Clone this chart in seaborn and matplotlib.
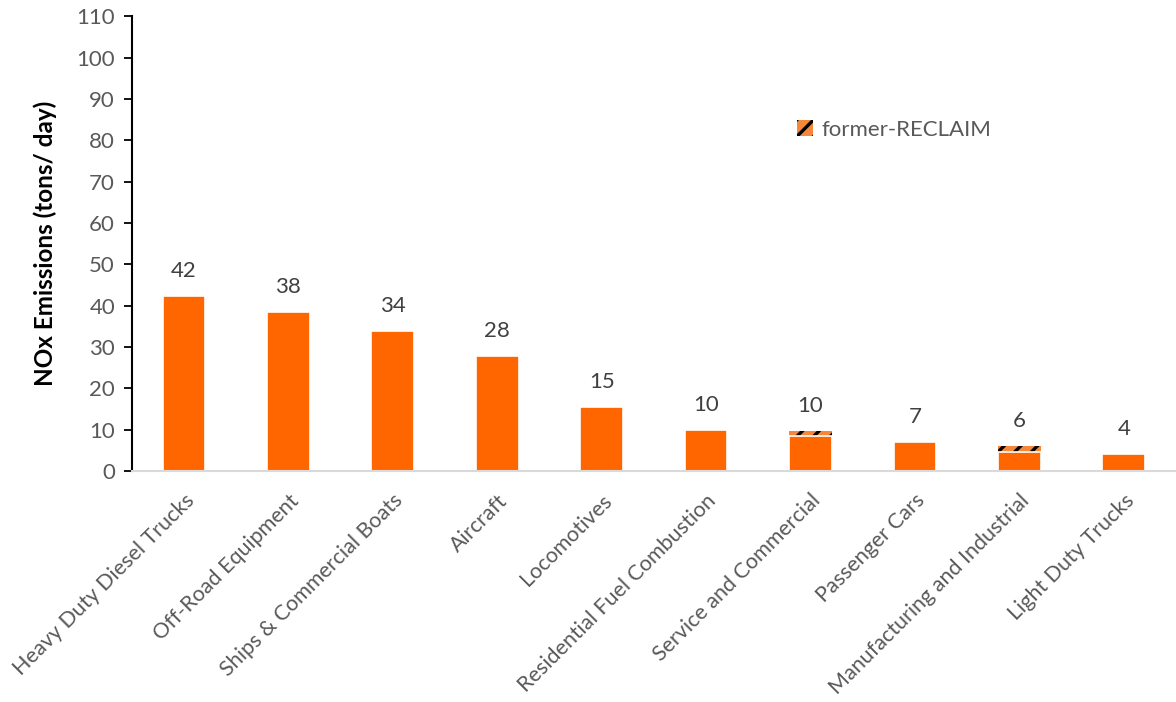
import matplotlib
matplotlib.use("Agg")
import matplotlib.pyplot as plt
import seaborn as sns
import pandas as pd
from matplotlib.patches import Patch

categories = [
    "Heavy Duty Diesel Trucks", "Off-Road Equipment", "Ships & Commercial Boats",
    "Aircraft", "Locomotives", "Residential Fuel Combustion",
    "Service and Commercial", "Passenger Cars", "Manufacturing and Industrial",
    "Light Duty Trucks",
]
base_values = [42.4, 38.4, 33.8, 27.8, 15.4, 9.9, 8.4, 7.0, 4.5, 4.1]
reclaim_values = [0, 0, 0, 0, 0, 0, 1.3, 0, 1.6, 0]
yticks = list(range(0, 111, 10))

totals = [b + r for b, r in zip(base_values, reclaim_values)]
df = pd.DataFrame({"category": categories, "base": base_values, "total": totals})

sns.set_style("white")
plt.rcParams["font.family"] = ["Lato", "DejaVu Sans"]
plt.rcParams["hatch.linewidth"] = 2.4

fig = plt.figure(figsize=(11.76, 7.02), dpi=100)
ax = fig.add_axes([0.112, 0.329, 0.888, 0.648])

orange = "#FF6600"
light_orange = "#F4873A"

# Totals drawn hatched; the solid base bars are laid over them
sns.barplot(data=df, x="category", y="total", color=light_orange, saturation=1,
            width=0.41, hatch="//", edgecolor="black", linewidth=0, ax=ax)
sns.barplot(data=df, x="category", y="base", color=orange, saturation=1,
            width=0.41, edgecolor="white", linewidth=1.2, ax=ax)

for i, t in enumerate(totals):
    ax.text(i, t + 3.6, f"{t:.0f}", ha="center", va="bottom",
            fontsize=16, color="#404040")

ax.set_xlim(-0.5, len(categories) - 0.5)
ax.set_ylim(0, 110)
ax.set_yticks(yticks)
ax.set_yticklabels([str(v) for v in yticks], fontsize=16, color="#595959")
ax.tick_params(axis="y", direction="out", length=6, width=1.3, color="black",
               left=True, pad=6)
ax.tick_params(axis="x", length=0, pad=14)
ax.set_xticks(range(len(categories)))
ax.set_xticklabels(categories, rotation=45, ha="right", rotation_mode="anchor",
                   fontsize=15.5, color="#595959")
ax.set_xlabel("")
ax.set_ylabel("NOx Emissions (tons/ day)", fontsize=17.5, fontweight="bold",
              color="black", labelpad=14)

for side in ["top", "right"]:
    ax.spines[side].set_visible(False)
ax.spines["left"].set_color("black")
ax.spines["left"].set_linewidth(1.5)
ax.spines["bottom"].set_color("#D9D9D9")
ax.spines["bottom"].set_linewidth(1.5)

handle = Patch(facecolor=light_orange, hatch="//", edgecolor="black", linewidth=0)
ax.legend([handle], ["former-RECLAIM"], loc="upper left",
          bbox_to_anchor=(0.618, 0.816), frameon=False, fontsize=16,
          handlelength=0.7, handleheight=0.7, handletextpad=0.4,
          labelcolor="#595959")

fig.savefig("out.png", dpi=100)
